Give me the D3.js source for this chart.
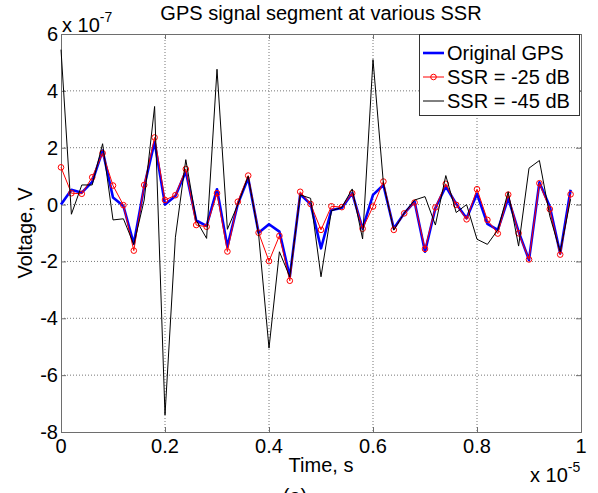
<!DOCTYPE html>
<html>
<head>
<meta charset="utf-8">
<script src="https://cdn.jsdelivr.net/npm/d3@7"></script>
<style>
  body { margin: 0; background: #fff; }
  svg { font-family: "Liberation Sans", Arial, sans-serif; }
</style>
</head>
<body>
<script>
const width = 598;
const height = 493;

// time axis in units of 1e-5 s, one sample every 0.02
const times = d3.range(50).map(i => i * 0.02);

// voltages in units of 1e-7 V
const original = [0, 0.52, 0.42, 0.80, 1.90, 0.25, -0.05, -1.38, 0.64, 2.20,
  0.00, 0.30, 1.16, -0.56, -0.75, 0.54, -1.48, 0.02, 0.93, -0.99,
  -0.69, -0.95, -2.54, 0.36, 0.02, -1.54, -0.19, -0.12, 0.40, -0.85,
  0.34, 0.69, -0.84, -0.31, 0.10, -1.66, -0.12, 0.64, 0.02, -0.48,
  0.38, -0.68, -0.89, 0.22, -0.95, -1.95, 0.78, -0.07, -1.72, 0.52];

const ssr25 = [1.31, 0.40, 0.38, 0.96, 1.81, 0.67, -0.02, -1.62, 0.69, 2.36,
  0.16, 0.33, 1.25, -0.72, -0.78, 0.40, -1.65, 0.10, 1.02, -0.99,
  -1.99, -1.10, -2.68, 0.45, 0.02, -0.89, -0.06, -0.09, 0.40, -0.85,
  -0.07, 0.81, -0.89, -0.31, 0.07, -1.56, -0.10, 0.73, -0.01, -0.52,
  0.54, -0.54, -1.02, 0.35, -1.01, -1.93, 0.75, -0.16, -1.76, 0.36];

const ssr45 = [5.45, -0.34, 0.69, 0.69, 2.14, -0.54, -0.50, -1.40, 0.16, 3.45,
  -7.40, -1.15, 1.58, -0.55, -1.19, 4.76, -0.87, 0.00, 1.00, -1.05,
  -5.05, -1.66, -2.54, 0.34, 0.22, -2.54, -0.22, -0.10, 0.55, -1.21,
  5.10, 0.75, -0.90, -0.30, 0.16, 0.28, -0.72, 1.02, -0.28, 0.00,
  -1.22, -1.40, -0.89, 0.45, -1.46, 1.28, 1.55, -0.40, -1.66, 0.19];

const xTicks = [0, 0.2, 0.4, 0.6, 0.8, 1];
const yTicks = [-8, -6, -4, -2, 0, 2, 4, 6];
const seriesNames = ["Original GPS", "SSR = -25 dB", "SSR = -45 dB"];

const plotLeft = 61, plotRight = 581, plotTop = 34, plotBottom = 432;
const axisColor = "#6e6e6e";

const svg = d3.select("body").append("svg")
  .attr("width", width)
  .attr("height", height);

const x = d3.scaleLinear().domain([0, 1]).range([plotLeft, plotRight]);
const y = d3.scaleLinear().domain([-8, 6]).range([plotBottom, plotTop]);

// grid
svg.append("g").selectAll("line")
  .data(xTicks.slice(1, -1))
  .enter().append("line")
  .attr("x1", d => x(d)).attr("x2", d => x(d))
  .attr("y1", plotTop).attr("y2", plotBottom)
  .attr("stroke", "#777").attr("stroke-dasharray", "1,2");

svg.append("g").selectAll("line")
  .data(yTicks.slice(1, -1))
  .enter().append("line")
  .attr("x1", plotLeft).attr("x2", plotRight)
  .attr("y1", d => y(d)).attr("y2", d => y(d))
  .attr("stroke", "#777").attr("stroke-dasharray", "1,2");

// axes with inward ticks, labels drawn separately
const xAxis = svg.append("g")
  .attr("transform", `translate(0,${plotBottom})`)
  .call(d3.axisBottom(x).tickValues(xTicks).tickSize(-5).tickFormat(""));
const xAxisTop = svg.append("g")
  .attr("transform", `translate(0,${plotTop})`)
  .call(d3.axisTop(x).tickValues(xTicks).tickSize(-5).tickFormat(""));
const yAxis = svg.append("g")
  .attr("transform", `translate(${plotLeft},0)`)
  .call(d3.axisLeft(y).tickValues(yTicks).tickSize(-5).tickFormat(""));
const yAxisRight = svg.append("g")
  .attr("transform", `translate(${plotRight},0)`)
  .call(d3.axisRight(y).tickValues(yTicks).tickSize(-5).tickFormat(""));

[xAxis, xAxisTop, yAxis, yAxisRight].forEach(g => {
  g.selectAll("path, line").attr("stroke", axisColor);
});

svg.append("g").selectAll("text")
  .data(xTicks)
  .enter().append("text")
  .attr("x", d => x(d))
  .attr("y", 453)
  .attr("text-anchor", "middle")
  .style("font-size", "20px")
  .text(d => d3.format("~g")(d));

svg.append("g").selectAll("text")
  .data(yTicks)
  .enter().append("text")
  .attr("x", 58)
  .attr("y", d => y(d))
  .attr("dy", "0.35em")
  .attr("text-anchor", "end")
  .style("font-size", "20px")
  .text(d => d);

// exponent labels
const expTop = svg.append("text").attr("x", 62).attr("y", 32).style("font-size", "20px");
expTop.append("tspan").text("x 10");
expTop.append("tspan").attr("dy", -10).style("font-size", "14px").text("-7");

const expBottom = svg.append("text").attr("x", 530).attr("y", 482).style("font-size", "20px");
expBottom.append("tspan").text("x 10");
expBottom.append("tspan").attr("dy", -10).style("font-size", "14px").text("-5");

// lines
const line = d3.line()
  .x((d, i) => x(times[i]))
  .y(d => y(d));

svg.append("path")
  .datum(original)
  .attr("d", line)
  .attr("fill", "none")
  .attr("stroke", "#0000ff")
  .attr("stroke-width", 2.6)
  .attr("stroke-linejoin", "round");

svg.append("path")
  .datum(ssr25)
  .attr("d", line)
  .attr("fill", "none")
  .attr("stroke", "#ff0000")
  .attr("stroke-width", 1);

svg.append("g").selectAll("circle")
  .data(ssr25)
  .enter().append("circle")
  .attr("cx", (d, i) => x(times[i]))
  .attr("cy", d => y(d))
  .attr("r", 2.8)
  .attr("fill", "none")
  .attr("stroke", "#ff0000")
  .attr("stroke-width", 1);

svg.append("path")
  .datum(ssr45)
  .attr("d", line)
  .attr("fill", "none")
  .attr("stroke", "#000")
  .attr("stroke-width", 1);

// legend
const legend = svg.append("g");
legend.append("rect")
  .attr("x", 419.5).attr("y", 34.5)
  .attr("width", 160).attr("height", 81)
  .attr("fill", "#fff")
  .attr("stroke", "#333");

const legendColors = ["#0000ff", "#ff0000", "#000"];
const legendWidths = [2.6, 1, 1];
seriesNames.forEach((name, i) => {
  const cy = 53 + i * 24;
  legend.append("line")
    .attr("x1", 423).attr("x2", 444)
    .attr("y1", cy).attr("y2", cy)
    .attr("stroke", legendColors[i])
    .attr("stroke-width", legendWidths[i]);
  if (i === 1) {
    legend.append("circle")
      .attr("cx", 433.5).attr("cy", cy).attr("r", 2.8)
      .attr("fill", "none").attr("stroke", "#ff0000");
  }
  legend.append("text")
    .attr("x", 447).attr("y", cy)
    .attr("dy", "0.35em")
    .style("font-size", "20px")
    .text(name);
});

// titles
svg.append("text")
  .attr("x", (plotLeft + plotRight) / 2)
  .attr("y", 20)
  .attr("text-anchor", "middle")
  .style("font-size", "20px")
  .text("GPS signal segment at various SSR");

svg.append("text")
  .attr("x", (plotLeft + plotRight) / 2)
  .attr("y", 472)
  .attr("text-anchor", "middle")
  .style("font-size", "20px")
  .text("Time, s");

svg.append("text")
  .attr("transform", `translate(32,${(plotTop + plotBottom) / 2}) rotate(-90)`)
  .attr("text-anchor", "middle")
  .style("font-size", "20px")
  .text("Voltage, V");

// sub-figure caption, cut off at the bottom edge
svg.append("text")
  .attr("x", 295)
  .attr("y", 503)
  .attr("text-anchor", "middle")
  .style("font-size", "20px")
  .text("(a)");
</script>
</body>
</html>
